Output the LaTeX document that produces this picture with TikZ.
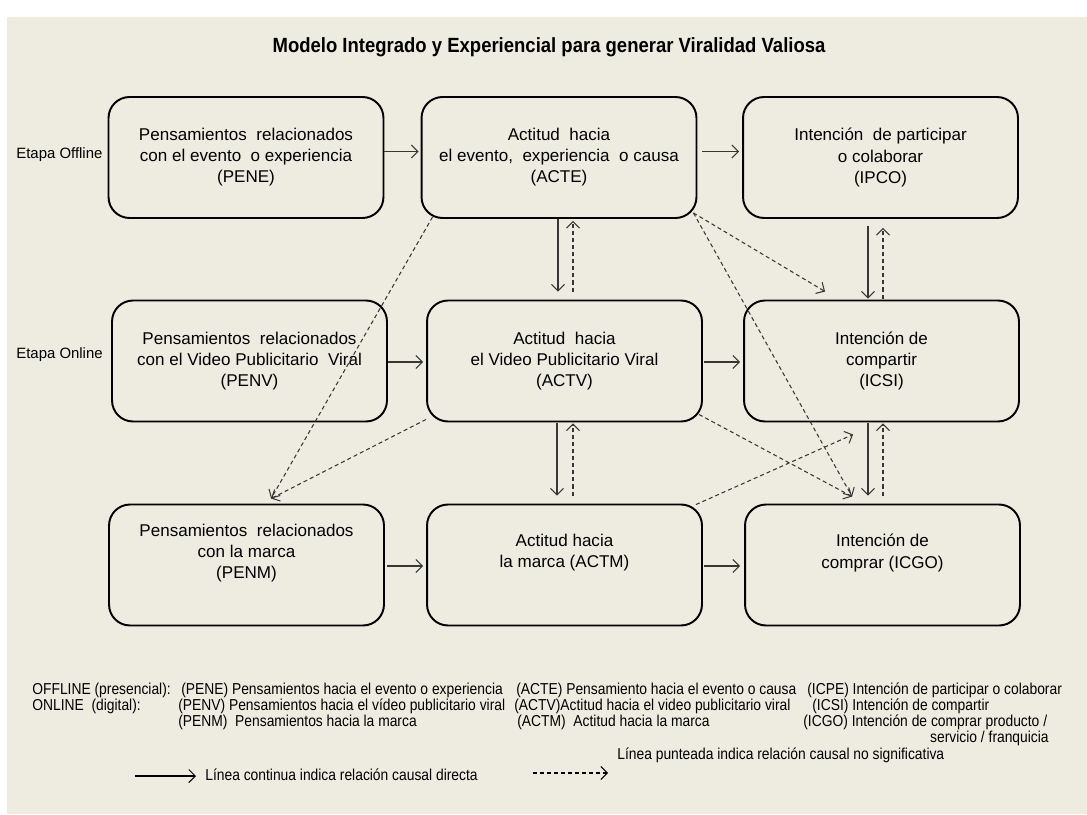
\documentclass[tikz,border=0pt]{standalone}
\usepackage{fontspec}
\setmainfont{Liberation Sans}
\newfontfamily\titlefont[FakeStretch=0.9]{Liberation Sans}
\newfontfamily\legendfont[FakeStretch=0.875]{Liberation Sans}
\usetikzlibrary{arrows.meta, positioning, calc}
\definecolor{paperbeige}{RGB}{238,236,225}
\definecolor{arrowgray}{RGB}{55,55,55}

\begin{document}
\begin{tikzpicture}[x=0.02cm, y=-0.02cm,
    construct/.style={rectangle, draw=black, line width=1.1pt, rounded corners=0.42cm, minimum width=5.5cm, minimum height=2.42cm, align=center, font=\fontsize{9.7}{12}\selectfont, inner sep=2pt},
    raised/.style={text depth=0.55cm},
    stage/.style={anchor=west, inner sep=0pt, font=\fontsize{8.5}{10}\selectfont},
    legend/.style={anchor=west, font=\legendfont\fontsize{9}{10}\selectfont, inner sep=0pt},
    arrow/.style={-{Straight Barb[length=1.3mm, width=2.6mm]}, color=arrowgray, line width=0.6pt},
    nsarrow/.style={arrow, dash pattern=on 2.3pt off 1.7pt}
]

% Background
\fill[white] (0,0) rectangle (1087,814);
\fill[paperbeige] (7,17) rectangle (1087,814);

% Title
\node[font=\titlefont\bfseries\fontsize{11.7}{13}\selectfont] (title) at (549,47) {Modelo Integrado y Experiencial para generar Viralidad Valiosa};

% Stages
\node[stage] (offline) at (16,155) {Etapa Offline};
\node[stage] (online) at (16,355) {Etapa Online};

% Row 1: offline
\node[construct] (PENE) at (246,157.5) {Pensamientos\ \ relacionados\\con el evento\ \ o experiencia\\(PENE)};
\node[construct] (ACTE) at (559,157.5) {Actitud\ \ hacia\\el evento,\ \ experiencia\ \ o causa\\(ACTE)};
\node[construct] (IPCO) at (880.5,157.5) {Intención\ \ de participar\\o colaborar\\(IPCO)};

% Row 2: online
\node[construct] (PENV) at (249.5,361) {Pensamientos\ \ relacionados\\con el Video Publicitario\ \ Viral\\(PENV)};
\node[construct] (ACTV) at (564.5,361) {Actitud\ \ hacia\\el Video Publicitario Viral\\(ACTV)};
\node[construct] (ICSI) at (881.5,361) {Intención de\\compartir\\(ICSI)};

% Row 3: brand
\node[construct, raised] (PENM) at (246.5,565) {Pensamientos\ \ relacionados\\con la marca\\(PENM)};
\node[construct, raised] (ACTM) at (564.5,565) {Actitud hacia\\la marca (ACTM)};
\node[construct, raised] (ICGO) at (882.5,565) {Intención de\\comprar (ICGO)};

% Arrows: direct relations along the rows
\draw[arrow] ($(PENE.east)+(0,-6)$) -- ($(ACTE.west)+(-2,-6)$);
\draw[arrow] ($(ACTE.east)+(5,-6)$) -- ($(IPCO.west)+(-3,-6)$);
\draw[arrow] ($(PENV.east)+(0,1)$) -- ($(ACTV.west)+(-3,1)$);
\draw[arrow] ($(ACTV.east)+(1,1)$) -- ($(ICSI.west)+(-3,1)$);
\draw[arrow] ($(PENM.east)+(2,1)$) -- ($(ACTM.west)+(-3,1)$);
\draw[arrow] ($(ACTM.east)+(1,1)$) -- ($(ICGO.west)+(-4,1)$);

% Arrows: down the columns (solid) and back up (dashed)
\draw[arrow] ($(ACTE.south)+(-1,0)$) -- ($(ACTE.south |- ACTV.north)+(-1,-8)$);
\draw[nsarrow] ($(ACTE.south |- ACTV.north)+(14,-8)$) -- ($(ACTE.south)+(14,2)$);
\draw[arrow] ($(IPCO.south)+(-12.5,7)$) -- ($(IPCO.south |- ICSI.north)+(-12.5,-1)$);
\draw[nsarrow] ($(IPCO.south |- ICSI.north)+(2.5,-1)$) -- ($(IPCO.south)+(2.5,9)$);
\draw[arrow] ($(ACTV.south)+(-7.5,1)$) -- ($(ACTV.south |- ACTM.north)+(-7.5,-8)$);
\draw[nsarrow] ($(ACTV.south |- ACTM.north)+(8.5,-8)$) -- ($(ACTV.south)+(8.5,1)$);
\draw[arrow] ($(ICSI.south)+(-13.5,1)$) -- ($(ICSI.south |- ICGO.north)+(-13.5,-8)$);
\draw[nsarrow] ($(ICSI.south |- ICGO.north)+(1.5,-8)$) -- ($(ICSI.south)+(1.5,1)$);

% Arrows: non significant diagonals
\draw[nsarrow] ($(ACTE.south east)+(-4,-6)$) -- ($(ICSI.north west)+(82,-8)$);
\draw[nsarrow] ($(ACTE.south east)+(-4,-6)$) -- ($(ICGO.north west)+(108,-7)$);
\draw[nsarrow] ($(ACTE.south west)+(12,-2)$) -- ($(PENM.north west)+(163,-5)$);
\draw[nsarrow] ($(ACTV.south west)+(0,-3)$) -- ($(PENM.north west)+(163,-5)$);
\draw[nsarrow] ($(ACTV.south east)+(-4,-8)$) -- ($(ICGO.north west)+(108,-7)$);
\draw[nsarrow] ($(ACTM.north east)+(-7,1)$) -- ($(ICSI.south west)+(110,12)$);

% Legend
\node[legend] (offkey) at (32,690) {OFFLINE (presencial):};
\node[legend] (onkey) at (32,706) {ONLINE\ \ (digital):};
\node[legend] (penekey) at (181,690) {(PENE) Pensamientos hacia el evento o experiencia};
\node[legend] (penvkey) at (178,706) {(PENV) Pensamientos hacia el vídeo publicitario viral};
\node[legend] (penmkey) at (178,722) {(PENM)\ \ Pensamientos hacia la marca};
\node[legend] (actekey) at (516,690) {(ACTE) Pensamiento hacia el evento o causa};
\node[legend] (actvkey) at (514,706) {(ACTV)Actitud hacia el video publicitario viral};
\node[legend] (actmkey) at (517,722) {(ACTM)\ \ Actitud hacia la marca};
\node[legend] (icpekey) at (807,690) {(ICPE) Intención de participar o colaborar};
\node[legend] (icsikey) at (812,706) {(ICSI) Intención de compartir};
\node[legend] (icgokey) at (803,722) {(ICGO) Intención de comprar producto /};
\node[legend, anchor=east] (icgomore) at (1049,738) {servicio / franquicia};
\node[legend] (dashkey) at (617,755) {Línea punteada indica relación causal no significativa};
\node[legend] (solidkey) at (205,775) {Línea continua indica relación causal directa};

% Legend arrows
\coordinate (solidA) at (135,776);
\coordinate (solidB) at (196,776);
\coordinate (dashA) at (533,773);
\coordinate (dashB) at (608,773);
\draw[arrow, color=black] (solidA) -- (solidB);
\draw[nsarrow, color=black] (dashA) -- (dashB);

\end{tikzpicture}
\end{document}
